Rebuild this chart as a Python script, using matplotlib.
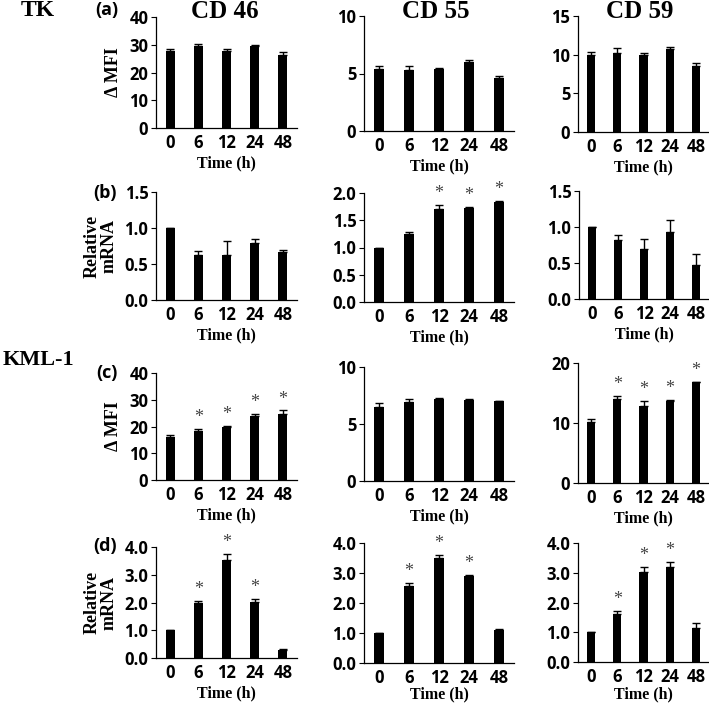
import matplotlib
matplotlib.use("Agg")
import matplotlib.pyplot as plt
import numpy as np

# ---------------- data ----------------
times = ['0', '6', '12', '24', '48']

# TK - Delta MFI
tk_cd46_mfi = [27.8, 29.5, 27.7, 29.6, 26.3]
tk_cd46_mfi_err = [0.6, 0.9, 0.6, 0.2, 1.2]
tk_cd55_mfi = [5.35, 5.29, 5.38, 5.96, 4.6]
tk_cd55_mfi_err = [0.29, 0.38, 0.14, 0.2, 0.2]
tk_cd59_mfi = [9.95, 10.17, 9.95, 10.7, 8.53]
tk_cd59_mfi_err = [0.35, 0.7, 0.3, 0.34, 0.43]

# TK - relative mRNA
tk_cd46_mrna = [1.0, 0.62, 0.62, 0.79, 0.67]
tk_cd46_mrna_err = [0.0, 0.06, 0.20, 0.06, 0.03]
tk_cd55_mrna = [1.0, 1.24, 1.71, 1.73, 1.84]
tk_cd55_mrna_err = [0.0, 0.05, 0.07, 0.02, 0.02]
tk_cd59_mrna = [1.0, 0.82, 0.70, 0.93, 0.47]
tk_cd59_mrna_err = [0.0, 0.07, 0.14, 0.17, 0.15]

# KML-1 - Delta MFI
kml_cd46_mfi = [16.2, 18.5, 20.0, 24.0, 24.8]
kml_cd46_mfi_err = [0.5, 0.6, 0.3, 0.8, 1.3]
kml_cd55_mfi = [6.53, 6.97, 7.22, 7.09, 7.0]
kml_cd55_mfi_err = [0.35, 0.25, 0.05, 0.14, 0.05]
kml_cd59_mfi = [10.2, 14.05, 12.9, 13.7, 16.8]
kml_cd59_mfi_err = [0.5, 0.5, 0.85, 0.1, 0.1]

# KML-1 - relative mRNA
kml_cd46_mrna = [1.0, 1.99, 3.53, 2.03, 0.29]
kml_cd46_mrna_err = [0.0, 0.08, 0.22, 0.09, 0.02]
kml_cd55_mrna = [1.0, 2.58, 3.5, 2.91, 1.11]
kml_cd55_mrna_err = [0.0, 0.09, 0.09, 0.02, 0.02]
kml_cd59_mrna = [1.0, 1.61, 3.03, 3.2, 1.14]
kml_cd59_mrna_err = [0.0, 0.09, 0.15, 0.17, 0.16]

# significance (* markers)
tk_cd55_mrna_sig = [False, False, True, True, True]
kml_cd46_mfi_sig = [False, True, True, True, True]
kml_cd59_mfi_sig = [False, True, True, True, True]
kml_cd46_mrna_sig = [False, True, True, True, False]
kml_cd55_mrna_sig = [False, True, True, True, False]
kml_cd59_mrna_sig = [False, True, True, True, False]
no_sig = [False] * 5

titles = ['CD 46', 'CD 55', 'CD 59']
row_labels = ['(a)', '(b)', '(c)', '(d)']
cell_lines = ['TK', 'KML-1']

# ---------------- figure ----------------
W, H = 709, 704
fig = plt.figure(figsize=(W / 100, H / 100), dpi=100)

SANS = ['Open Sans', 'DejaVu Sans']
SERIF = ['Liberation Serif', 'DejaVu Serif']


def px_axes(l, t, r, b):
    return fig.add_axes([l / W, 1 - b / H, (r - l) / W, (b - t) / H])


def panel(rect, vals, errs, sig, ymax, ystep, fmt, ylabel=None, lp=3):
    ax = px_axes(*rect)
    x = np.arange(len(times))
    ax.bar(x, vals, width=0.32, color='black', zorder=2)
    ax.errorbar(x, vals, yerr=[np.zeros(len(vals)), errs], fmt='none',
                ecolor='black', elinewidth=1.0, capsize=3, capthick=1.0, zorder=3)
    ax.set_xlim(-0.5, 4.5)
    ax.set_ylim(0, ymax)
    ticks = np.arange(0, ymax + ystep / 2, ystep)
    ax.set_yticks(ticks)
    ax.set_yticklabels([fmt.format(t) for t in ticks], fontfamily=SANS,
                       fontweight='bold', fontsize=12)
    ax.set_xticks(x)
    ax.set_xticklabels(times, fontfamily=SANS, fontweight='bold', fontsize=12)
    ax.tick_params(axis='x', length=0, pad=4)
    ax.tick_params(axis='y', length=3.5, width=0.8, direction='out', pad=2)
    for s in ['top', 'right']:
        ax.spines[s].set_visible(False)
    for s in ['left', 'bottom']:
        ax.spines[s].set_linewidth(0.9)
    ax.set_xlabel('Time (h)', fontfamily=SERIF, fontweight='bold', fontsize=11.5,
                  labelpad=lp)
    if ylabel:
        ax.set_ylabel(ylabel, fontfamily=SERIF, fontweight='bold', fontsize=13,
                      labelpad=5, linespacing=1.0)
    for xi, v, e, s in zip(x, vals, errs, sig):
        if s:
            ax.text(xi, v + e + ymax * 0.025, '*', ha='center', va='bottom',
                    fontfamily=SERIF, fontsize=13, color='#444444')
    return ax


dm = '\u0394 MFI'
rm = 'Relative\nmRNA'

# Row (a)
panel((156, 17, 297, 128), tk_cd46_mfi, tk_cd46_mfi_err, no_sig, 40, 10, '{:.0f}', dm)
panel((364, 16, 514, 131), tk_cd55_mfi, tk_cd55_mfi_err, no_sig, 10, 5, '{:.0f}')
panel((578, 16, 709, 132), tk_cd59_mfi, tk_cd59_mfi_err, no_sig, 15, 5, '{:.0f}')
# Row (b)
panel((156, 192, 297, 300), tk_cd46_mrna, tk_cd46_mrna_err, no_sig, 1.5, 0.5, '{:.1f}', rm)
panel((364, 193, 514, 302), tk_cd55_mrna, tk_cd55_mrna_err, tk_cd55_mrna_sig, 2.0, 0.5, '{:.1f}')
panel((579, 191, 709, 299), tk_cd59_mrna, tk_cd59_mrna_err, no_sig, 1.5, 0.5, '{:.1f}')
# Row (c)
panel((156, 373, 297, 480), kml_cd46_mfi, kml_cd46_mfi_err, kml_cd46_mfi_sig, 40, 10, '{:.0f}', dm)
panel((364, 367, 514, 481), kml_cd55_mfi, kml_cd55_mfi_err, no_sig, 10, 5, '{:.0f}')
panel((578, 363, 709, 483), kml_cd59_mfi, kml_cd59_mfi_err, kml_cd59_mfi_sig, 20, 10, '{:.0f}')
# Row (d)
panel((156, 547, 297, 658), kml_cd46_mrna, kml_cd46_mrna_err, kml_cd46_mrna_sig, 4.0, 1.0, '{:.1f}', rm, lp=3)
panel((364, 543, 514, 663), kml_cd55_mrna, kml_cd55_mrna_err, kml_cd55_mrna_sig, 4.0, 1.0, '{:.1f}', lp=0)
panel((578, 543, 709, 662), kml_cd59_mrna, kml_cd59_mrna_err, kml_cd59_mrna_sig, 4.0, 1.0, '{:.1f}', lp=0.5)

# Column titles
for tx, t in zip([225, 436, 640], titles):
    fig.text(tx / W, 1 - 11 / H, t, ha='center', va='center', fontfamily=SERIF,
             fontweight='bold', fontsize=18)

# Cell line labels
fig.text(38 / W, 1 - 11 / H, cell_lines[0], ha='center', va='center',
         fontfamily=SERIF, fontweight='bold', fontsize=17)
fig.text(38 / W, 1 - 360 / H, cell_lines[1], ha='center', va='center',
         fontfamily=SERIF, fontweight='bold', fontsize=16)

# Panel letters
for (lx, ly), lab in zip([(107, 10), (105, 193), (107, 373), (105, 546)], row_labels):
    fig.text(lx / W, 1 - ly / H, lab, ha='center', va='center', fontfamily=SANS,
             fontweight='bold', fontsize=13)

fig.savefig('out.png', dpi=100)
